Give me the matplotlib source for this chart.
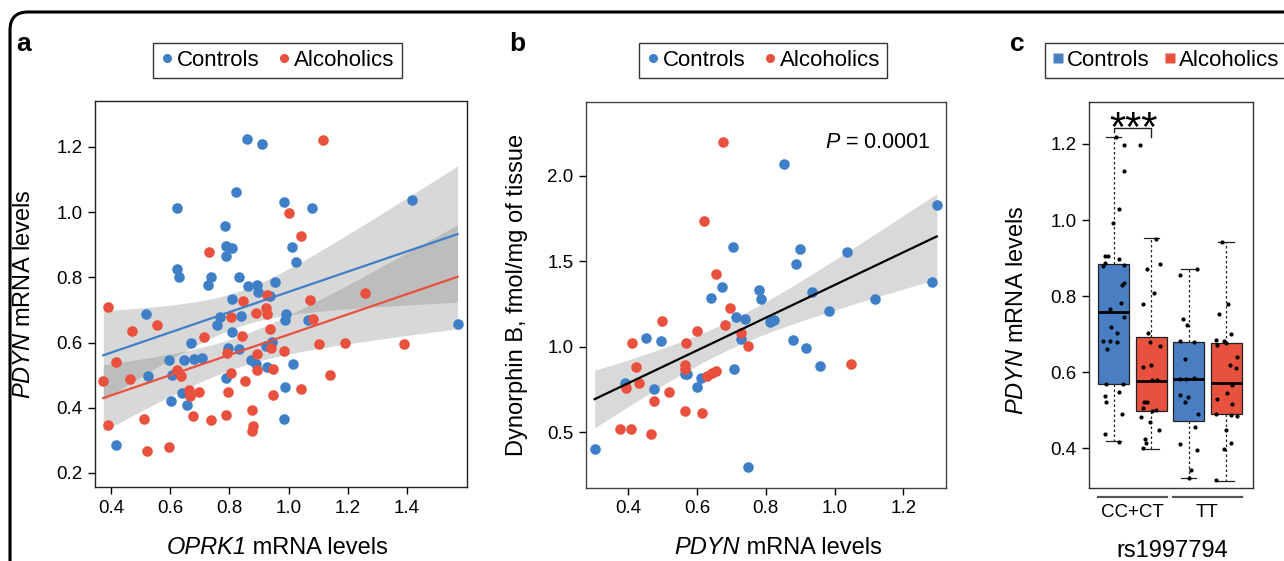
import numpy as np
import matplotlib
matplotlib.use('Agg')
import matplotlib.pyplot as plt
from matplotlib.lines import Line2D
from matplotlib.patches import FancyBboxPatch
from matplotlib.transforms import IdentityTransform, blended_transform_factory

plt.rcParams['font.family'] = ['Liberation Sans', 'DejaVu Sans']
plt.rcParams['mathtext.fontset'] = 'custom'
plt.rcParams['mathtext.it'] = 'Liberation Sans:italic'
plt.rcParams['mathtext.rm'] = 'Liberation Sans'

BLUE = '#3f7fc8'
RED = '#e9503d'
BOX_BLUE = '#4a7ec3'
BOX_RED = '#e8513d'

# ---- panel a: OPRK1 vs PDYN mRNA
ctrl_a_x = [0.860, 0.909, 0.821, 0.624, 0.984, 1.078, 1.416, 0.784, 0.790, 0.810,
            0.789, 1.011, 1.025, 0.624, 0.629, 0.738, 0.729, 0.833, 0.864, 0.892,
            0.898, 0.954, 0.937, 0.809, 0.768, 0.759, 0.838, 0.993, 0.988, 1.067,
            0.517, 0.808, 0.671, 0.796, 0.831, 0.924, 0.943, 1.571, 0.647, 0.680,
            0.707, 0.595, 0.872, 0.889, 0.928, 1.016, 0.606, 0.524, 0.787, 0.989,
            0.640, 0.602, 0.656, 0.984, 0.417]
ctrl_a_y = [1.225, 1.210, 1.062, 1.013, 1.032, 1.012, 1.037, 0.958, 0.895, 0.891,
            0.864, 0.894, 0.846, 0.825, 0.801, 0.801, 0.776, 0.802, 0.774, 0.777,
            0.756, 0.787, 0.744, 0.733, 0.678, 0.653, 0.680, 0.687, 0.669, 0.669,
            0.687, 0.632, 0.600, 0.584, 0.580, 0.591, 0.603, 0.656, 0.547, 0.550,
            0.552, 0.547, 0.547, 0.533, 0.524, 0.533, 0.501, 0.498, 0.491, 0.465,
            0.445, 0.422, 0.408, 0.365, 0.286]
alc_a_x = [1.115, 1.001, 1.043, 0.732, 0.926, 0.847, 0.923, 0.926, 0.804, 0.890,
           1.072, 1.081, 0.554, 0.471, 0.391, 0.844, 0.714, 0.939, 0.791, 0.892,
           0.941, 0.984, 1.103, 1.191, 1.390, 1.260, 0.416, 0.894, 0.946, 0.624,
           0.636, 0.374, 0.464, 0.804, 0.853, 1.140, 1.041, 0.948, 0.797, 0.662,
           0.667, 0.698, 0.676, 0.737, 0.788, 0.876, 0.879, 0.876, 0.513, 0.391,
           0.523, 0.596]
alc_a_y = [1.221, 0.997, 0.928, 0.878, 0.746, 0.729, 0.705, 0.688, 0.678, 0.690,
           0.731, 0.671, 0.654, 0.637, 0.710, 0.620, 0.618, 0.642, 0.569, 0.565,
           0.583, 0.574, 0.595, 0.600, 0.595, 0.753, 0.540, 0.516, 0.519, 0.516,
           0.499, 0.483, 0.487, 0.508, 0.483, 0.501, 0.457, 0.440, 0.448, 0.455,
           0.437, 0.449, 0.375, 0.363, 0.379, 0.393, 0.345, 0.330, 0.367, 0.346,
           0.267, 0.279]

# ---- panel b: PDYN mRNA vs dynorphin B
ctrl_b_x = [0.852, 0.704, 0.900, 1.037, 0.888, 1.297, 1.283, 0.672, 0.641, 0.781,
            0.786, 0.934, 1.118, 0.984, 0.712, 0.739, 0.812, 0.824, 0.727, 0.878,
            0.916, 0.956, 0.451, 0.494, 0.564, 0.572, 0.707, 0.611, 0.391, 0.476,
            0.599, 0.302, 0.747]
ctrl_b_y = [2.068, 1.586, 1.574, 1.557, 1.483, 1.832, 1.380, 1.352, 1.283, 1.332,
            1.279, 1.322, 1.278, 1.211, 1.176, 1.162, 1.146, 1.156, 1.045, 1.037,
            0.990, 0.887, 1.053, 1.033, 0.838, 0.838, 0.868, 0.815, 0.789, 0.752,
            0.762, 0.399, 0.297]
alc_b_x = [0.675, 0.619, 0.654, 0.696, 0.681, 0.499, 0.599, 0.727, 0.749, 1.047,
           0.412, 0.568, 0.423, 0.564, 0.564, 0.628, 0.643, 0.655, 0.393, 0.432,
           0.518, 0.476, 0.564, 0.615, 0.376, 0.407, 0.465]
alc_b_y = [2.197, 1.736, 1.426, 1.229, 1.127, 1.152, 1.094, 1.078, 1.004, 0.900,
           1.023, 1.020, 0.883, 0.893, 0.868, 0.828, 0.848, 0.858, 0.756, 0.787,
           0.736, 0.684, 0.623, 0.613, 0.516, 0.518, 0.490]
p_text = '$\\it{P}$ = 0.0001'

# ---- panel c: PDYN mRNA by rs1997794 genotype
box_labels = ['Controls CC+CT', 'Alcoholics CC+CT', 'Controls TT', 'Alcoholics TT']
box_q1 = [0.569, 0.497, 0.471, 0.489]
box_med = [0.759, 0.577, 0.581, 0.572]
box_q3 = [0.884, 0.692, 0.679, 0.676]
box_lo = [0.418, 0.399, 0.322, 0.315]
box_hi = [1.219, 0.952, 0.872, 0.941]
genotypes = ['CC+CT', 'TT']

c1_y = [1.218, 1.197, 1.130, 1.028, 0.993, 0.906, 0.906, 0.897, 0.878, 0.886,
        0.882, 0.830, 0.834, 0.766, 0.783, 0.744, 0.720, 0.703, 0.681, 0.681,
        0.680, 0.662, 0.570, 0.570, 0.538, 0.523, 0.549, 0.491, 0.437, 0.417]
c1_dx = [0.05, 0.28, 0.27, 0.14, -0.03, -0.22, -0.15, 0.14, -0.28, -0.23,
         0.27, 0.21, 0.27, -0.10, 0.19, 0.27, -0.06, 0.08, -0.28, -0.10,
         0.08, -0.19, -0.21, 0.26, -0.23, -0.21, 0.15, 0.23, -0.23, 0.15]
c2_y = [1.197, 0.951, 0.872, 0.884, 0.808, 0.780, 0.703, 0.680, 0.668, 0.615,
        0.619, 0.580, 0.580, 0.522, 0.522, 0.507, 0.497, 0.501, 0.483, 0.468,
        0.449, 0.424, 0.414, 0.400]
c2_dx = [-0.29, 0.13, -0.10, 0.24, 0.07, -0.21, -0.09, -0.03, 0.24, -0.21,
         0.00, 0.02, 0.16, -0.20, -0.12, -0.21, 0.02, 0.14, -0.27, -0.03,
         0.21, -0.16, -0.13, -0.21]
c3_y = [0.856, 0.871, 0.740, 0.724, 0.681, 0.679, 0.634, 0.582, 0.583, 0.585,
        0.541, 0.534, 0.523, 0.489, 0.455, 0.411, 0.395, 0.343, 0.322]
c3_dx = [-0.24, 0.21, -0.15, -0.05, -0.24, 0.13, -0.11, -0.22, -0.06, 0.14,
         -0.24, -0.02, -0.11, 0.26, 0.16, -0.24, 0.21, 0.05, 0.01]
c4_y = [0.941, 0.780, 0.753, 0.701, 0.685, 0.681, 0.676, 0.672, 0.640, 0.619,
        0.612, 0.566, 0.545, 0.530, 0.517, 0.489, 0.488, 0.486, 0.449, 0.414,
        0.399, 0.316]
c4_dx = [-0.11, 0.06, -0.20, 0.13, -0.26, -0.06, -0.01, -0.24, 0.28, 0.10,
         0.25, 0.15, 0.01, -0.24, 0.15, -0.28, 0.14, 0.28, -0.01, 0.13,
         -0.05, -0.26]

TICK_FS = 13.5
LABEL_FS = 17
LEG_FS = 16


def fit_band(x, y, xs, t=2.0):
    x = np.asarray(x)
    y = np.asarray(y)
    b, a = np.polyfit(x, y, 1)
    n = len(x)
    s = np.sqrt(np.sum((y - (a + b * x)) ** 2) / (n - 2))
    se = s * np.sqrt(1 / n + (xs - x.mean()) ** 2 / np.sum((x - x.mean()) ** 2))
    fit = a + b * xs
    return fit, fit - t * se, fit + t * se


def style_axes(ax, spine_color='#222222'):
    for sp in ax.spines.values():
        sp.set_color(spine_color)
        sp.set_linewidth(1.0)
    ax.tick_params(direction='out', length=5, width=1.0, labelsize=TICK_FS,
                   top=False, right=False, pad=4)


def dot_legend(marker, ms, c1, c2):
    return [Line2D([], [], ls='', marker=marker, ms=ms, color=c1, mec='none'),
            Line2D([], [], ls='', marker=marker, ms=ms, color=c2, mec='none')]


def mixed_xlabel(fig, ax, x, y, italic_part, rest, fs):
    # italic gene name followed by upright text, centred as a whole
    t1 = ax.text(x, y, italic_part, transform=ax.transAxes, ha='left', va='center',
                 fontsize=fs, style='italic')
    t2 = ax.annotate(rest, xy=(1, 0), xycoords=t1, ha='left', va='bottom', fontsize=fs)
    r = fig.canvas.get_renderer()
    w = t1.get_window_extent(r).width + t2.get_window_extent(r).width
    axw = ax.get_window_extent(r).width
    t1.set_x(x - 0.5 * w / axw)


fig = plt.figure(figsize=(12.84, 5.61), dpi=100)

# rounded frame around the whole figure
frame = FancyBboxPatch((10, -40), 1330, 589, boxstyle='round,pad=0,rounding_size=18',
                       transform=IdentityTransform(), fill=False, ec='black', lw=2.2,
                       clip_on=False)
fig.patches.append(frame)

leg_kw = dict(ncol=2, fontsize=LEG_FS, frameon=True, fancybox=False, edgecolor='black',
              handlelength=0.6, handletextpad=0.15, columnspacing=0.8, borderpad=0.32,
              borderaxespad=0)

# ------------------ panel a
ax = fig.add_axes([0.0740, 0.1319, 0.2897, 0.6881])
xs = np.linspace(min(min(ctrl_a_x), min(alc_a_x)), max(max(ctrl_a_x), max(alc_a_x)), 200)
for gx, gy, col in [(ctrl_a_x, ctrl_a_y, BLUE), (alc_a_x, alc_a_y, RED)]:
    fit, lo, hi = fit_band(gx, gy, xs)
    ax.fill_between(xs, lo, hi, color='#7f7f7f', alpha=0.3, lw=0, zorder=1)
ax.scatter(ctrl_a_x, ctrl_a_y, s=58, color=BLUE, lw=0, zorder=2)
ax.scatter(alc_a_x, alc_a_y, s=58, color=RED, lw=0, zorder=2)
for gx, gy, col in [(ctrl_a_x, ctrl_a_y, BLUE), (alc_a_x, alc_a_y, RED)]:
    fit, lo, hi = fit_band(gx, gy, xs)
    ax.plot(xs, fit, color=col, lw=1.6, zorder=3)
ax.set_xlim(0.346, 1.603)
ax.set_ylim(0.157, 1.341)
ax.set_xticks([0.4, 0.6, 0.8, 1.0, 1.2, 1.4])
ax.set_yticks([0.2, 0.4, 0.6, 0.8, 1.0, 1.2])
ax.set_xticklabels(['0.4', '0.6', '0.8', '1.0', '1.2', '1.4'])
ax.set_yticklabels(['0.2', '0.4', '0.6', '0.8', '1.0', '1.2'])
style_axes(ax)
mixed_xlabel(fig, ax, 0.49, -0.158, 'OPRK1', ' mRNA levels', LABEL_FS)
ax.text(-0.191, 0.5, '$\\it{PDYN}$ mRNA levels', transform=ax.transAxes,
        ha='center', va='center', rotation=90, fontsize=LABEL_FS)
fig.legend(handles=dot_legend('o', 6.5, BLUE, RED), labels=['Controls', 'Alcoholics'],
           loc='center', bbox_to_anchor=(0.2161, 0.892), **leg_kw)

# ------------------ panel b
ax = fig.add_axes([0.4564, 0.1307, 0.2804, 0.6875])
all_x = ctrl_b_x + alc_b_x
all_y = ctrl_b_y + alc_b_y
xs = np.linspace(min(all_x), max(all_x), 200)
fit, lo, hi = fit_band(all_x, all_y, xs)
ax.fill_between(xs, lo, hi, color='#d9d9d9', lw=0, zorder=1)
ax.scatter(ctrl_b_x, ctrl_b_y, s=58, color=BLUE, lw=0, zorder=2)
ax.scatter(alc_b_x, alc_b_y, s=58, color=RED, lw=0, zorder=2)
ax.plot(xs, fit, color='black', lw=1.6, zorder=3)
ax.set_xlim(0.277, 1.324)
ax.set_ylim(0.174, 2.433)
ax.set_xticks([0.4, 0.6, 0.8, 1.0, 1.2])
ax.set_yticks([0.5, 1.0, 1.5, 2.0])
ax.set_xticklabels(['0.4', '0.6', '0.8', '1.0', '1.2'])
ax.set_yticklabels(['0.5', '1.0', '1.5', '2.0'])
style_axes(ax, '#444444')
ax.text(0.956, 0.894, p_text, transform=ax.transAxes, ha='right', va='center', fontsize=15.5)
mixed_xlabel(fig, ax, 0.533, -0.156, 'PDYN', ' mRNA levels', LABEL_FS)
ax.text(-0.191, 0.5, 'Dynorphin B, fmol/mg of tissue', transform=ax.transAxes,
        ha='center', va='center', rotation=90, fontsize=LABEL_FS)
fig.legend(handles=dot_legend('o', 6.5, BLUE, RED), labels=['Controls', 'Alcoholics'],
           loc='center', bbox_to_anchor=(0.5942, 0.892), **leg_kw)

# ------------------ panel c
ax = fig.add_axes([0.8484, 0.1296, 0.1272, 0.6891])
stats = []
for i in range(4):
    stats.append(dict(label=box_labels[i], q1=box_q1[i], med=box_med[i], q3=box_q3[i],
                      whislo=box_lo[i], whishi=box_hi[i], fliers=[]))
positions = [1, 2, 3, 4]
bp = ax.bxp(stats, positions=positions, widths=0.82, patch_artist=True, showfliers=False,
            boxprops=dict(lw=0.9, edgecolor='#222222'),
            medianprops=dict(color='black', lw=2.0),
            whiskerprops=dict(color='#222222', lw=0.9, ls=(0, (2, 2))),
            capprops=dict(color='#222222', lw=0.9), capwidths=0.41)
for patch, col in zip(bp['boxes'], [BOX_BLUE, BOX_RED, BOX_BLUE, BOX_RED]):
    patch.set_facecolor(col)
for pos, dxs, ys in zip(positions, [c1_dx, c2_dx, c3_dx, c4_dx], [c1_y, c2_y, c3_y, c4_y]):
    ax.scatter(np.array(dxs) + pos, ys, s=9, color='black', lw=0, zorder=4)
ax.set_xlim(0.35, 4.707)
ax.set_ylim(0.295, 1.311)
ax.set_xticks([])
ax.set_yticks([0.4, 0.6, 0.8, 1.0, 1.2])
ax.set_yticklabels(['0.4', '0.6', '0.8', '1.0', '1.2'])
style_axes(ax, '#333333')
# significance bracket
ax.plot([1.02, 1.02, 2.0, 2.0], [1.232, 1.241, 1.241, 1.217], color='#222222', lw=1.0,
        clip_on=False)
ax.text(1.52, 1.209, '***', ha='center', va='baseline', fontsize=30)
# genotype group lines
tr = blended_transform_factory(ax.transData, ax.transAxes)
for k, g in enumerate(genotypes):
    c = 1.5 + 2 * k
    ax.plot([c - 0.91, c + 0.91], [-0.022, -0.022], color='#555555', lw=1.6,
            transform=tr, clip_on=False)
    ax.text(c, -0.063, g, transform=tr, ha='center', va='center', fontsize=TICK_FS)
ax.text(0.508, -0.162, 'rs1997794', transform=ax.transAxes, ha='center', va='center',
        fontsize=LABEL_FS)
ax.text(-0.444, 0.46, '$\\it{PDYN}$ mRNA levels', transform=ax.transAxes,
        ha='center', va='center', rotation=90, fontsize=LABEL_FS)
fig.legend(handles=dot_legend('s', 7.5, BOX_BLUE, BOX_RED), labels=['Controls', 'Alcoholics'],
           loc='center left', bbox_to_anchor=(0.8136, 0.892),
           **dict(leg_kw, handletextpad=0.1, columnspacing=0.6))

# panel letters
for lx, letter in [(0.0125, 'a'), (0.3964, 'b'), (0.7866, 'c')]:
    fig.text(lx, 0.909, letter, fontsize=19, fontweight='bold', va='baseline', ha='left')

fig.savefig('out.png', dpi=100)
